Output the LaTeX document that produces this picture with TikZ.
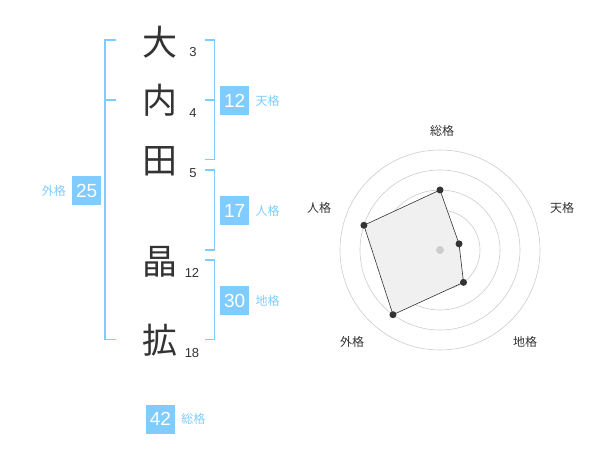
\documentclass[tikz,border=0pt]{standalone}
\usepackage{fontspec}
\usetikzlibrary{positioning}
\setmainfont{Liberation Sans}
\newfontfamily\jp{Noto Sans CJK JP}
\definecolor{kakublue}{HTML}{80CCFF}
\definecolor{ink}{HTML}{333333}
\tikzset{
  kanji/.style={font=\jp\fontsize{35}{35}\selectfont, text=ink, inner sep=0pt},
  strokes/.style={font=\fontsize{13}{13}\selectfont, text=ink, inner sep=0pt},
  kakubox/.style={fill=kakublue, text=white, minimum size=29pt, inner sep=0pt, font=\fontsize{19}{19}\selectfont},
  kakuname/.style={text=kakublue, font=\jp\fontsize{12}{12}\selectfont, inner sep=0pt},
  bracket/.style={draw=kakublue, line width=1.5pt},
  ring/.style={draw=black!20, line width=0.6pt},
  axislabel/.style={font=\jp\fontsize{12}{12}\selectfont, text=ink, inner sep=0pt},
  dot/.style={circle, fill=ink, inner sep=0pt, minimum size=7pt}
}
\begin{document}
\begin{tikzpicture}[x=1pt,y=-1pt]
  \useasboundingbox (0,0) rectangle (600,470);
  % name
  \node[kanji] (k1) at (160,42) {大};
  \node[kanji] (k2) at (160,100) {内};
  \node[kanji] (k3) at (160,161) {田};
  \node[kanji] (k4) at (160,262) {晶};
  \node[kanji] (k5) at (160,340) {拡};
  \node[strokes] (s1) at (193,52) {3};
  \node[strokes] (s2) at (193,113) {4};
  \node[strokes] (s3) at (193,173) {5};
  \node[strokes] (s4) at (192,273) {12};
  \node[strokes] (s5) at (192,353) {18};
  % brackets
  \draw[bracket] (116,40) -- (105,40) -- (105,339.5) -- (116,339.5)
    (105,100) -- (116,100);
  \draw[bracket] (205,40) -- (214.5,40) -- (214.5,159.5) -- (205,159.5)
    (205,100) -- (214.5,100);
  \draw[bracket] (205,170) -- (214.5,170) -- (214.5,250) -- (205,250);
  \draw[bracket] (205,260) -- (214.5,260) -- (214.5,339.5) -- (205,339.5);
  % boxes
  \node[kakubox] (ten) at (234.7,100.5) {12};
  \node[kakuname, right=6pt of ten] (tenname) {天格};
  \node[kakubox] (jin) at (234.7,211) {17};
  \node[kakuname, right=6pt of jin] (jinname) {人格};
  \node[kakubox] (chi) at (234.7,300.5) {30};
  \node[kakuname, right=6pt of chi] (chiname) {地格};
  \node[kakubox] (gai) at (86.7,190.5) {25};
  \node[kakuname, left=6pt of gai] (gainame) {外格};
  \node[kakubox] (sou) at (160.5,419) {42};
  \node[kakuname, right=6pt of sou] (souname) {総格};
  % radar
  \coordinate (c) at (440,250);
  \foreach \r in {20,40,...,100}
    \draw[ring] (c) circle[radius=\r pt];
  \coordinate (psou) at ([shift={(-90:60)}]c);
  \coordinate (pten) at ([shift={(-18:20)}]c);
  \coordinate (pchi) at ([shift={(54:40)}]c);
  \coordinate (pgai) at ([shift={(126:80)}]c);
  \coordinate (pjin) at ([shift={(198:80)}]c);
  \draw[draw=ink, fill=black!6, line width=0.6pt] (psou) -- (pten) -- (pchi) -- (pgai) -- (pjin) -- cycle;
  \fill[black!20] (c) circle[radius=4pt];
  \foreach \p in {psou,pten,pchi,pgai,pjin}
    \node[dot] at (\p) {};
  \node[axislabel] (lsou) at (442,131) {総格};
  \node[axislabel] (lten) at (562,208) {天格};
  \node[axislabel] (lchi) at (525,342) {地格};
  \node[axislabel] (lgai) at (352,342) {外格};
  \node[axislabel] (ljin) at (319,208) {人格};
\end{tikzpicture}
\end{document}
